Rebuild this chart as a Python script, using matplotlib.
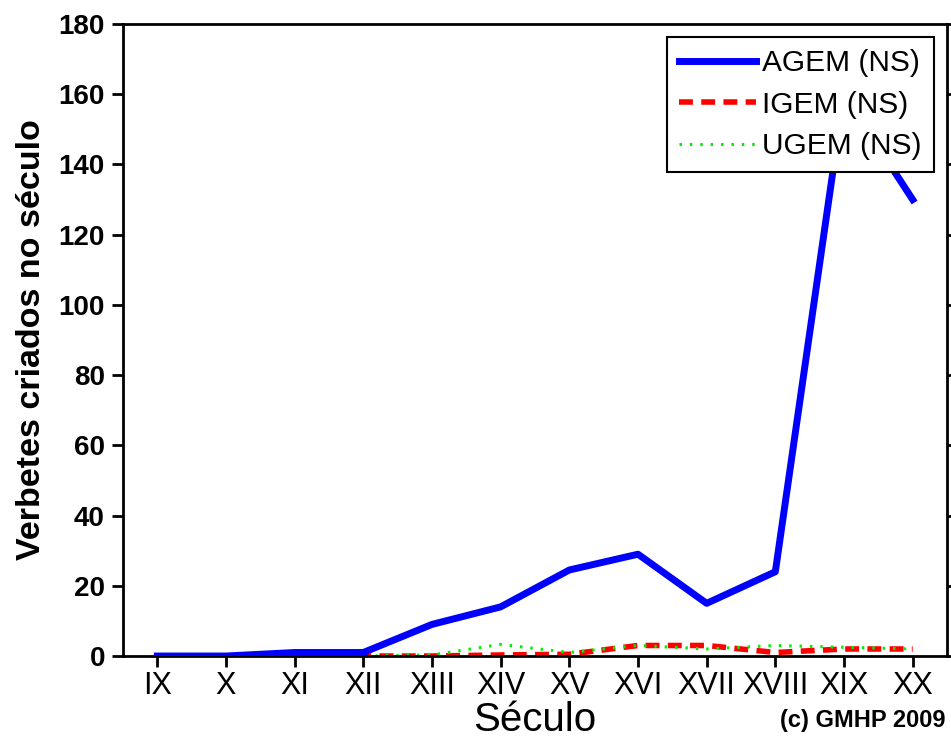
import matplotlib
matplotlib.use('Agg')
import matplotlib.pyplot as plt

# century labels and counts
seculos = ['IX', 'X', 'XI', 'XII', 'XIII', 'XIV', 'XV', 'XVI', 'XVII', 'XVIII', 'XIX', 'XX']
agem = [0, 0, 1, 1, 9, 14, 24.5, 29, 15, 24, 160, 130]
igem = [0, 0, 0, 0, 0, 0.3, 0.5, 3, 3, 1, 2, 2]
ugem = [0, 0, 0, 0, 0.3, 3.3, 1, 3, 2, 3, 2.5, 2]

plt.rcParams['font.family'] = ['Liberation Sans', 'DejaVu Sans']

fig = plt.figure(figsize=(9.51, 7.47), dpi=100)
ax = fig.add_axes([0.1293, 0.1218, 0.8665, 0.846])

x = list(range(len(seculos)))
ax.plot(x, agem, color='#0000ff', lw=5, label='AGEM (NS)', zorder=3)
ax.plot(x, igem, color='#ff0000', lw=4, ls=(0, (2.5, 1.5)), label='IGEM (NS)', zorder=2)
ax.plot(x, ugem, color='#00ee00', lw=2.2, ls=(0, (0.8, 2.6)), label='UGEM (NS)', zorder=2)

ax.set_xlim(-0.5, 11.5)
ax.set_ylim(0, 180)
ax.set_xticks(x)
ax.set_xticklabels(seculos)
ax.set_yticks(range(0, 181, 20))

for s in ax.spines.values():
    s.set_linewidth(2)
ax.tick_params(axis='both', direction='out', length=8, width=2, pad=5)
ax.tick_params(axis='y', right=True, labelsize=20)
ax.tick_params(axis='x', labelsize=22, pad=3)
for lab in ax.get_yticklabels():
    lab.set_fontweight('bold')

ax.set_ylabel('Verbetes criados no século', fontsize=24.5, fontweight='bold', labelpad=8)
ax.set_xlabel('Século', fontsize=29, labelpad=0)
fig.text(0.994, 0.036, '(c) GMHP 2009', ha='right', va='center', fontsize=17, fontweight='bold')

leg = ax.legend(loc='upper right', fontsize=21.5, handlelength=2.6, frameon=True, fancybox=False,
                edgecolor='black', framealpha=1, borderpad=0.4, labelspacing=0.45,
                handletextpad=0.2, borderaxespad=0.45)
leg.get_frame().set_linewidth(1.5)
leg.set_zorder(5)

fig.savefig('out.png', dpi=100)
